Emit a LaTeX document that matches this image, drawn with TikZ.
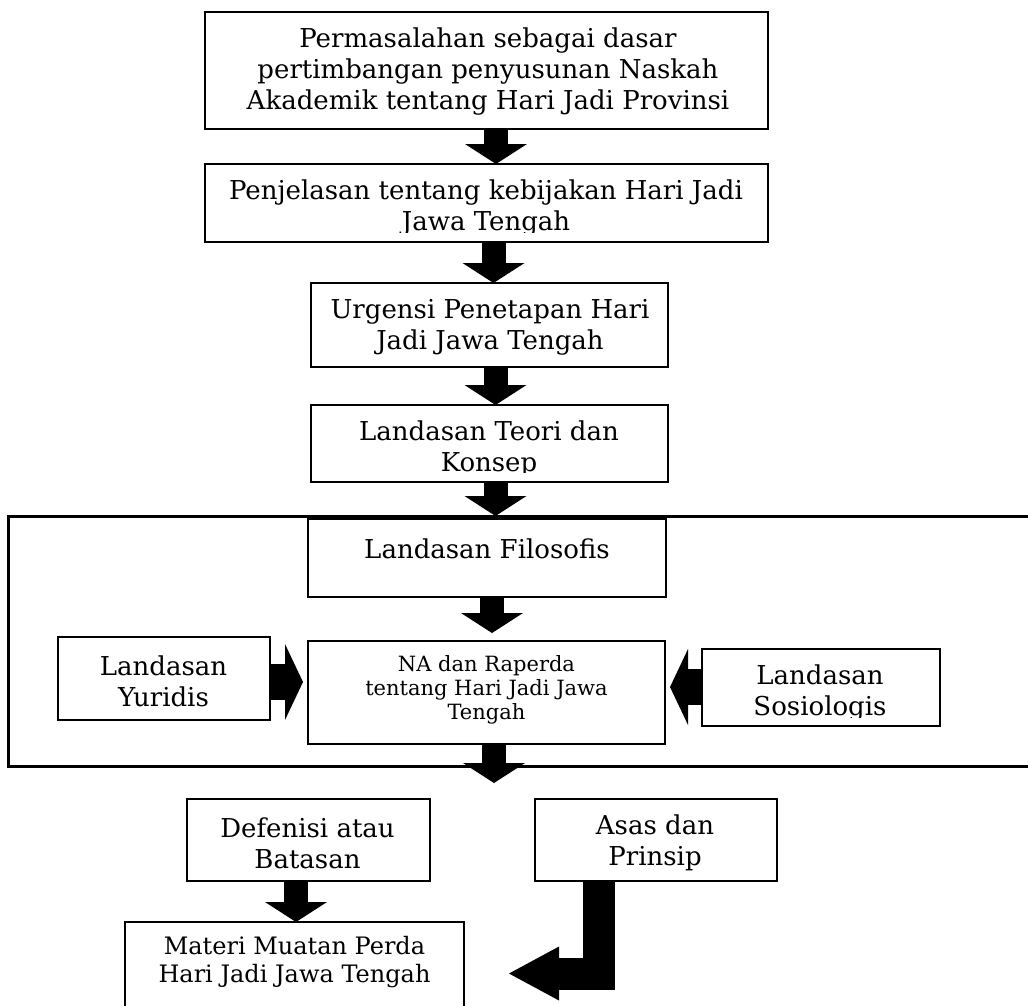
\documentclass[tikz,border=0pt]{standalone}
\usepackage{fontspec}
\setmainfont{DejaVu Serif}
\usetikzlibrary{arrows.meta}
\begin{document}
\begin{tikzpicture}[x=1pt,y=-1pt,
  box/.style={draw, line width=1.2pt, inner sep=0pt, outer sep=0pt},
  frm/.style={draw, line width=3pt, inner sep=0pt, outer sep=0pt},
  txt/.style={align=center, inner sep=0pt, font=\fontsize{26}{31}\selectfont},
  smalltxt/.style={align=center, inner sep=0pt, font=\fontsize{21}{24}\selectfont},
  midtxt/.style={align=center, inner sep=0pt, font=\fontsize{24}{28}\selectfont},
  vblk/.style={line width=24pt, -{Triangle[width=62pt,length=20pt,line width=0pt]}},
  hblk/.style={line width=36pt, -{Triangle[width=76pt,length=18pt,line width=0pt]}},
  eblk/.style={line width=32pt, line join=miter, -{Triangle[width=54pt,length=50pt,line width=0pt]}}
]
\clip (0,0) rectangle (1028,1005);
\fill[white] (0,0) rectangle (1028,1005);

% boxes
\node[box, minimum width=563pt, minimum height=117pt] (b1) at (486.5,70.5) {};
\node[box, minimum width=563pt, minimum height=78pt] (b2) at (486.5,203) {};
\node[box, minimum width=357pt, minimum height=84pt] (b3) at (489.5,325) {};
\node[box, minimum width=357pt, minimum height=77pt] (b4) at (489.5,443.5) {};
\node[frm, minimum width=1031.5pt, minimum height=250pt] (frame) at (524.25,641) {};
\node[box, minimum width=358pt, minimum height=78pt] (fil) at (487,558) {};
\node[box, minimum width=357pt, minimum height=103pt] (na) at (486.5,692.5) {};
\node[box, minimum width=212pt, minimum height=83pt] (yur) at (164,678.5) {};
\node[box, minimum width=238pt, minimum height=77pt] (soc) at (821,687.5) {};
\node[box, minimum width=243pt, minimum height=82pt] (def) at (308.5,840) {};
\node[box, minimum width=242pt, minimum height=82pt] (asas) at (656,840) {};
\node[box, minimum width=339pt, minimum height=120pt] (mat) at (294.5,982) {};

% texts
\node[txt] (t1) at (488,72) {Permasalahan sebagai dasar\\pertimbangan penyusunan Naskah\\Akademik tentang Hari Jadi Provinsi};
\begin{scope}
\clip (206,165) rectangle (767,232);
\node[txt] (t2) at (486,208) {Penjelasan tentang kebijakan Hari Jadi\\Jawa Tengah};
\end{scope}
\node[txt] (t3) at (490,327) {Urgensi Penetapan Hari\\Jadi Jawa Tengah};
\begin{scope}
\clip (312,406) rectangle (667,472);
\node[txt] (t4) at (489,449) {Landasan Teori dan\\Konsep};
\end{scope}
\node[txt] (t5) at (487,549) {Landasan Filosofis};
\node[txt] (t6) at (163.5,681) {Landasan\\Yuridis};
\begin{scope}
\clip (703,650) rectangle (939,717);
\node[txt] (t7) at (820,693) {Landasan\\Sosiologis};
\end{scope}
\node[smalltxt] (t8) at (486.5,690) {NA dan Raperda\\tentang Hari Jadi Jawa\\Tengah};
\node[txt] (t9) at (307.5,843) {Defenisi atau\\Batasan};
\node[txt] (t10) at (655,843) {Asas dan\\Prinsip};
\node[midtxt] (t11) at (294.5,962) {Materi Muatan Perda\\Hari Jadi Jawa Tengah};

% arrows
\coordinate (a1s) at ([xshift=9.5pt]b1.south);
\draw[vblk] (a1s) -- (a1s |- b2.north);
\coordinate (a2s) at ([xshift=7pt]b2.south);
\draw[vblk] (a2s) -- (a2s |- b3.north);
\coordinate (a3s) at ([xshift=6pt]b3.south);
\draw[vblk] (a3s) -- (a3s |- b4.north);
\coordinate (a4s) at ([xshift=6pt]b4.south);
\draw[vblk] (a4s) -- (a4s |- frame.north);
\coordinate (a5s) at ([xshift=5pt]fil.south);
\coordinate (a5e) at (492,633);
\draw[vblk] (a5s) -- (a5e);
\coordinate (a6e) at (494,783);
\draw[vblk] (na.south -| a6e) -- (a6e);
\coordinate (a7s) at ([xshift=-12.5pt]def.south);
\draw[vblk] (a7s) -- (a7s |- mat.north);
\coordinate (ye) at (303,682);
\draw[hblk] (yur.east |- ye) -- (ye);
\coordinate (se) at (670,687);
\draw[hblk] (soc.west |- se) -- (se);
\coordinate (a8s) at ([xshift=-57pt]asas.south);
\coordinate (a8e) at (509,973.5);
\draw[eblk] (a8s) |- (a8e);
\end{tikzpicture}
\end{document}
